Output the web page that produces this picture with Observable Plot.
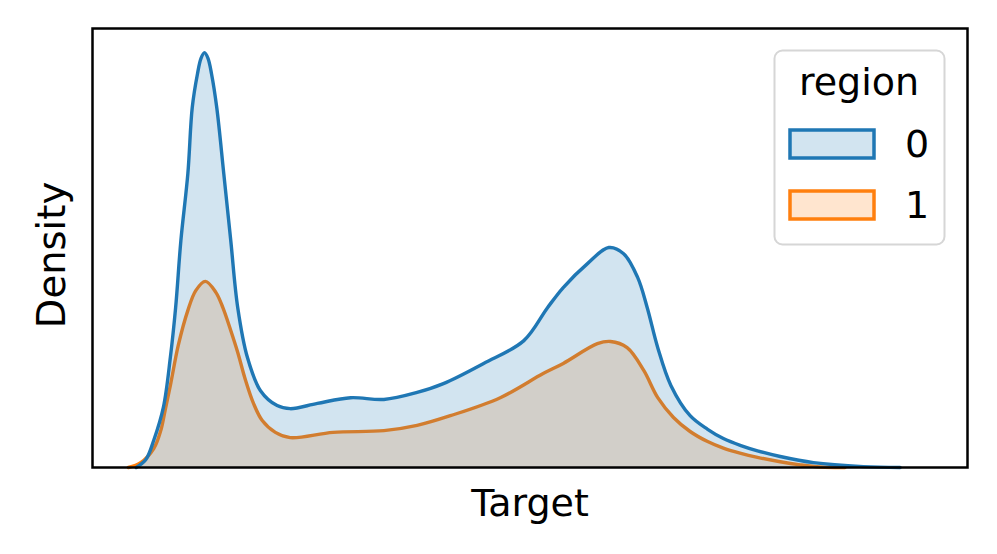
<!DOCTYPE html>
<html><head><meta charset="utf-8">
<script src="https://cdn.jsdelivr.net/npm/d3@7"></script>
<script src="https://cdn.jsdelivr.net/npm/@observablehq/plot@0.6"></script>
<style>
body{margin:0;background:#fff}
#chart{position:relative;width:997px;height:554px}
#chart svg{display:block}
</style>
</head><body><div id="chart"></div>
<script>
const regions = ["0", "1"];
const colors = ["#1f77b4", "#ff7f0e"];
const legendTitle = "region";
const xLabel = "Target";
const yLabel = "Density";

const region0Target = [5.0, 6.1, 7.0, 8.1, 8.9, 9.5, 10.1, 10.9, 11.4, 12.0, 12.4, 12.8, 13.2, 13.6, 14.2, 15.0, 15.8, 16.6, 17.7, 19.2, 21.1, 22.6, 25.7, 29.5, 33.3, 37.1, 40.1, 44.7, 49.3, 52.0, 53.8, 56.6, 59.0, 60.7, 62.3, 63.4, 64.6, 66.1, 68.3, 70.3, 72.1, 74.1, 76.0, 78.6, 82.4, 88.1, 92.3];
const region0Density = [0, 0.0018, 0.0062, 0.0137, 0.0251, 0.0364, 0.0517, 0.0670, 0.0820, 0.0897, 0.0932, 0.0945, 0.0932, 0.0897, 0.0820, 0.0670, 0.0517, 0.0364, 0.0251, 0.0175, 0.0141, 0.0134, 0.0146, 0.0159, 0.0155, 0.0171, 0.0191, 0.0237, 0.0289, 0.0364, 0.0410, 0.0465, 0.0501, 0.0487, 0.0433, 0.0364, 0.0273, 0.0187, 0.0118, 0.0087, 0.0066, 0.0050, 0.0038, 0.0025, 0.0011, 0.0002, 0];

const region1Target = [4.1, 5.5, 7.0, 7.8, 8.3, 8.9, 9.8, 10.9, 11.8, 12.9, 14.1, 14.9, 15.8, 16.6, 17.5, 18.4, 19.4, 20.9, 22.6, 27.5, 33.3, 37.1, 40.9, 46.6, 51.5, 53.8, 57.7, 59.2, 61.1, 63.0, 64.6, 66.4, 68.3, 70.3, 72.1, 74.1, 76.0, 78.6, 80.9, 83.2, 86.0];
const region1Density = [0, 0.0011, 0.0043, 0.0084, 0.0130, 0.0187, 0.0278, 0.0358, 0.0403, 0.0424, 0.0399, 0.0364, 0.0312, 0.0262, 0.0198, 0.0146, 0.0107, 0.0080, 0.0068, 0.0080, 0.0084, 0.0096, 0.0118, 0.0159, 0.0214, 0.0237, 0.0282, 0.0287, 0.0273, 0.0221, 0.0159, 0.0114, 0.0082, 0.0059, 0.0044, 0.0032, 0.0023, 0.0013, 0.0006, 0.0001, 0];

const toRows = (xs, ys, r) => xs.map((x, i) => ({target: x, density: ys[i], region: r}));
const data0 = toRows(region0Target, region0Density, regions[0]);
const data1 = toRows(region1Target, region1Density, regions[1]);

const font = "DejaVu Sans, sans-serif";
const fillAlpha = 0.2;
const lw = 3.4;
const curve = "catmull-rom";

const plot = Plot.plot({
  width: 997, height: 554,
  marginLeft: 92, marginRight: 30, marginTop: 28, marginBottom: 87,
  x: {domain: [0, 100], axis: null},
  y: {domain: [0, 0.1], axis: null},
  style: {fontFamily: font, background: "white"},
  marks: [
    Plot.areaY(data1, {x: "target", y: "density", fill: colors[1], fillOpacity: fillAlpha, curve}),
    Plot.lineY(data1, {x: "target", y: "density", stroke: colors[1], strokeWidth: lw, curve}),
    Plot.areaY(data0, {x: "target", y: "density", fill: colors[0], fillOpacity: fillAlpha, curve}),
    Plot.lineY(data0, {x: "target", y: "density", stroke: colors[0], strokeWidth: lw, curve}),
    Plot.frame({stroke: "black", strokeWidth: 2.5}),
    Plot.text([xLabel], {text: d => d, frameAnchor: "bottom", textAnchor: "middle", dy: 48, lineAnchor: "bottom", fontSize: 38, fill: "black"}),
    Plot.text([yLabel], {text: d => d, frameAnchor: "left", textAnchor: "middle", rotate: -90, dx: -28, dy: 7, lineAnchor: "bottom", fontSize: 38.5, fill: "black"})
  ]
});
const chart = document.getElementById("chart");
chart.appendChild(plot);

// Legend overlay
const lg = d3.select(chart).append("svg")
  .attr("width", 174).attr("height", 198)
  .style("position", "absolute").style("left", "773px").style("top", "49px")
  .style("font-family", font);
lg.append("rect").attr("x", 1.5).attr("y", 1.5).attr("width", 170).attr("height", 194)
  .attr("rx", 8).attr("fill", "white").attr("fill-opacity", 0.8)
  .attr("stroke", "#d6d6d6").attr("stroke-width", 2);
lg.append("text").attr("x", 86).attr("y", 46).attr("text-anchor", "middle")
  .attr("font-size", 38).attr("fill", "black").text(legendTitle);
regions.forEach((r, i) => {
  const y0 = 81 + i * 61;
  lg.append("rect").attr("x", 17).attr("y", y0).attr("width", 84).attr("height", 28)
    .attr("fill", d3.color(colors[i]).copy({opacity: fillAlpha}).formatRgb())
    .attr("stroke", colors[i]).attr("stroke-width", 3.5);
  lg.append("text").attr("x", 132).attr("y", y0 + 27).attr("font-size", 38)
    .attr("fill", "black").text(r);
});
</script>
</body></html>
